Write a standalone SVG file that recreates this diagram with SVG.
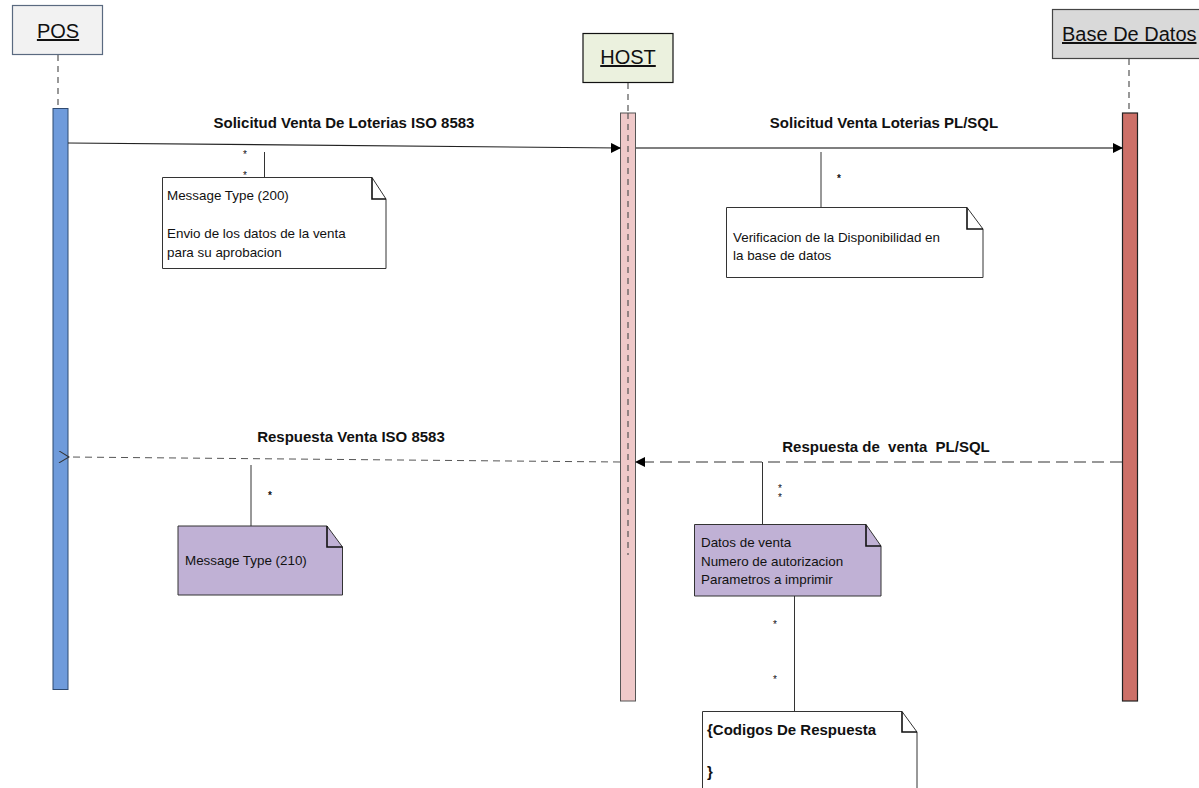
<svg xmlns="http://www.w3.org/2000/svg" width="1199" height="788" viewBox="0 0 1199 788">
<defs>
<style>
.title{font-family:"Liberation Sans",Arial,sans-serif;font-size:20px;fill:#111;text-decoration:underline}
.msg{font-family:"Liberation Sans",Arial,sans-serif;font-size:15px;font-weight:bold;fill:#111;white-space:pre}
.note{font-family:"Liberation Sans",Arial,sans-serif;font-size:13.4px;fill:#111}
.noteb{font-family:"Liberation Sans",Arial,sans-serif;font-size:15px;font-weight:bold;fill:#111}
.star{font-family:"Liberation Sans",Arial,sans-serif;font-size:10px;fill:#111}
.life{stroke:#555;stroke-width:1.2;stroke-dasharray:6,5;fill:none}
.nbox{fill:#fff;stroke:#333;stroke-width:1}
.pbox{fill:#c0b1d5;stroke:#333;stroke-width:1}
.fold{fill:none;stroke:#111;stroke-width:1.6}
.tie{stroke:#333;stroke-width:1;fill:none}
</style>
<marker id="fill" markerWidth="10" markerHeight="10" refX="9" refY="5" orient="auto" markerUnits="userSpaceOnUse">
<path d="M0,0 L10,5 L0,10 Z" fill="#000"/>
</marker>
<marker id="open" markerWidth="12" markerHeight="12" refX="1" refY="6" orient="auto" markerUnits="userSpaceOnUse">
<path d="M11,0 L1,6 L11,12" fill="none" stroke="#333" stroke-width="1"/>
</marker>
</defs>
<rect width="1199" height="788" fill="#fff"/>

<g id="pos">
<rect x="12.5" y="5.5" width="90" height="49" fill="#f2f2f2" stroke="#5a6a80" stroke-width="1.2"/>
<text class="title" x="58" y="38" text-anchor="middle">POS</text>
<line class="life" x1="58" y1="55" x2="58" y2="108" stroke="#6a7a90"/>
<rect x="53" y="108.5" width="15" height="581" fill="#6f9bdb" stroke="#2f4a70" stroke-width="1"/>
</g>

<g id="host">
<rect x="583" y="33.5" width="90" height="49" fill="#ebf1de" stroke="#111" stroke-width="1.2"/>
<text class="title" x="628" y="64" text-anchor="middle">HOST</text>
<line class="life" x1="628" y1="83" x2="628" y2="113"/>
<rect x="620.5" y="113" width="15" height="588" fill="#efc9c9" stroke="#555" stroke-width="1"/>
<line class="life" x1="628" y1="113" x2="628" y2="555" stroke="#222"/>
</g>

<g id="basededatos">
<rect x="1052.5" y="9.5" width="152" height="49" fill="#d9d9d9" stroke="#444" stroke-width="1.2"/>
<text class="title" x="1062" y="41">Base De Datos</text>
<line class="life" x1="1129" y1="59" x2="1129" y2="113"/>
<rect x="1122.5" y="113" width="15" height="588" fill="#cd7068" stroke="#222" stroke-width="1.2"/>
</g>

<g id="connectors">
<line x1="68" y1="143" x2="620" y2="148" stroke="#222" stroke-width="1.2" marker-end="url(#fill)"/>
<text class="msg" x="344" y="128" text-anchor="middle">Solicitud Venta De Loterias ISO 8583</text>
<line x1="636" y1="148" x2="1122" y2="148" stroke="#555" stroke-width="1.4" marker-end="url(#fill)"/>
<text class="msg" x="884" y="128" text-anchor="middle">Solicitud Venta Loterias PL/SQL</text>
<line x1="1122" y1="462" x2="636" y2="462" stroke="#333" stroke-width="1.2" stroke-dasharray="12,6" marker-end="url(#fill)"/>
<text class="msg" x="886" y="452" text-anchor="middle">Respuesta de  venta  PL/SQL</text>
<line x1="620" y1="462" x2="69" y2="457" stroke="#555" stroke-width="1" stroke-dasharray="7,5" marker-end="url(#open)"/>
<text class="msg" x="351" y="442" text-anchor="middle">Respuesta Venta ISO 8583</text>
<line class="tie" x1="264.5" y1="152" x2="264.5" y2="178"/>
<line class="tie" x1="821" y1="152" x2="821" y2="208"/>
<line class="tie" x1="251" y1="465" x2="251" y2="526"/>
<line class="tie" x1="762.5" y1="462" x2="762.5" y2="524"/>
<line class="tie" x1="794.5" y1="596" x2="794.5" y2="711"/>
<text class="star" x="243" y="158">*</text>
<text class="star" x="243" y="179">*</text>
<text class="star" x="837" y="182" font-weight="bold">*</text>
<text class="star" x="268" y="499" font-weight="bold">*</text>
<text class="star" x="778" y="492">*</text>
<text class="star" x="778" y="501">*</text>
<text class="star" x="773" y="628">*</text>
<text class="star" x="773" y="683">*</text>
</g>

<g id="note1">
<path class="nbox" d="M162.5,177.5 H372 L386,199 V268.5 H162.5 Z"/>
<path class="fold" d="M372,177.5 V199 H386"/>
<text class="note" x="167" y="200">Message Type (200)</text>
<text class="note" x="167" y="238">Envio de los datos de la venta</text>
<text class="note" x="167" y="257">para su aprobacion</text>
</g>

<g id="note2">
<path class="nbox" d="M726.5,207.5 H967 L983,229 V277.5 H726.5 Z"/>
<path class="fold" d="M967,207.5 V229 H983"/>
<text class="note" x="733" y="242">Verificacion de la Disponibilidad en</text>
<text class="note" x="733" y="260">la base de datos</text>
</g>

<g id="note3">
<path class="pbox" d="M178,526 H327 L342.5,547 V595 H178 Z"/>
<path class="fold" d="M327,526 V547 H342.5"/>
<text class="note" x="185" y="565">Message Type (210)</text>
</g>

<g id="note4">
<path class="pbox" d="M694.5,524.5 H866 L881,546 V596 H694.5 Z"/>
<path class="fold" d="M866,524.5 V546 H881"/>
<text class="note" x="701" y="547">Datos de venta</text>
<text class="note" x="701" y="566">Numero de autorizacion</text>
<text class="note" x="701" y="584">Parametros a imprimir</text>
</g>

<g id="note5">
<path class="nbox" d="M702.5,790 V711.5 H902 L917,732 V790"/>
<path class="fold" d="M902,711.5 V732 H917"/>
<text class="noteb" x="707" y="735">{Codigos De Respuesta</text>
<text class="noteb" x="707" y="777">}</text>
</g>
</svg>
